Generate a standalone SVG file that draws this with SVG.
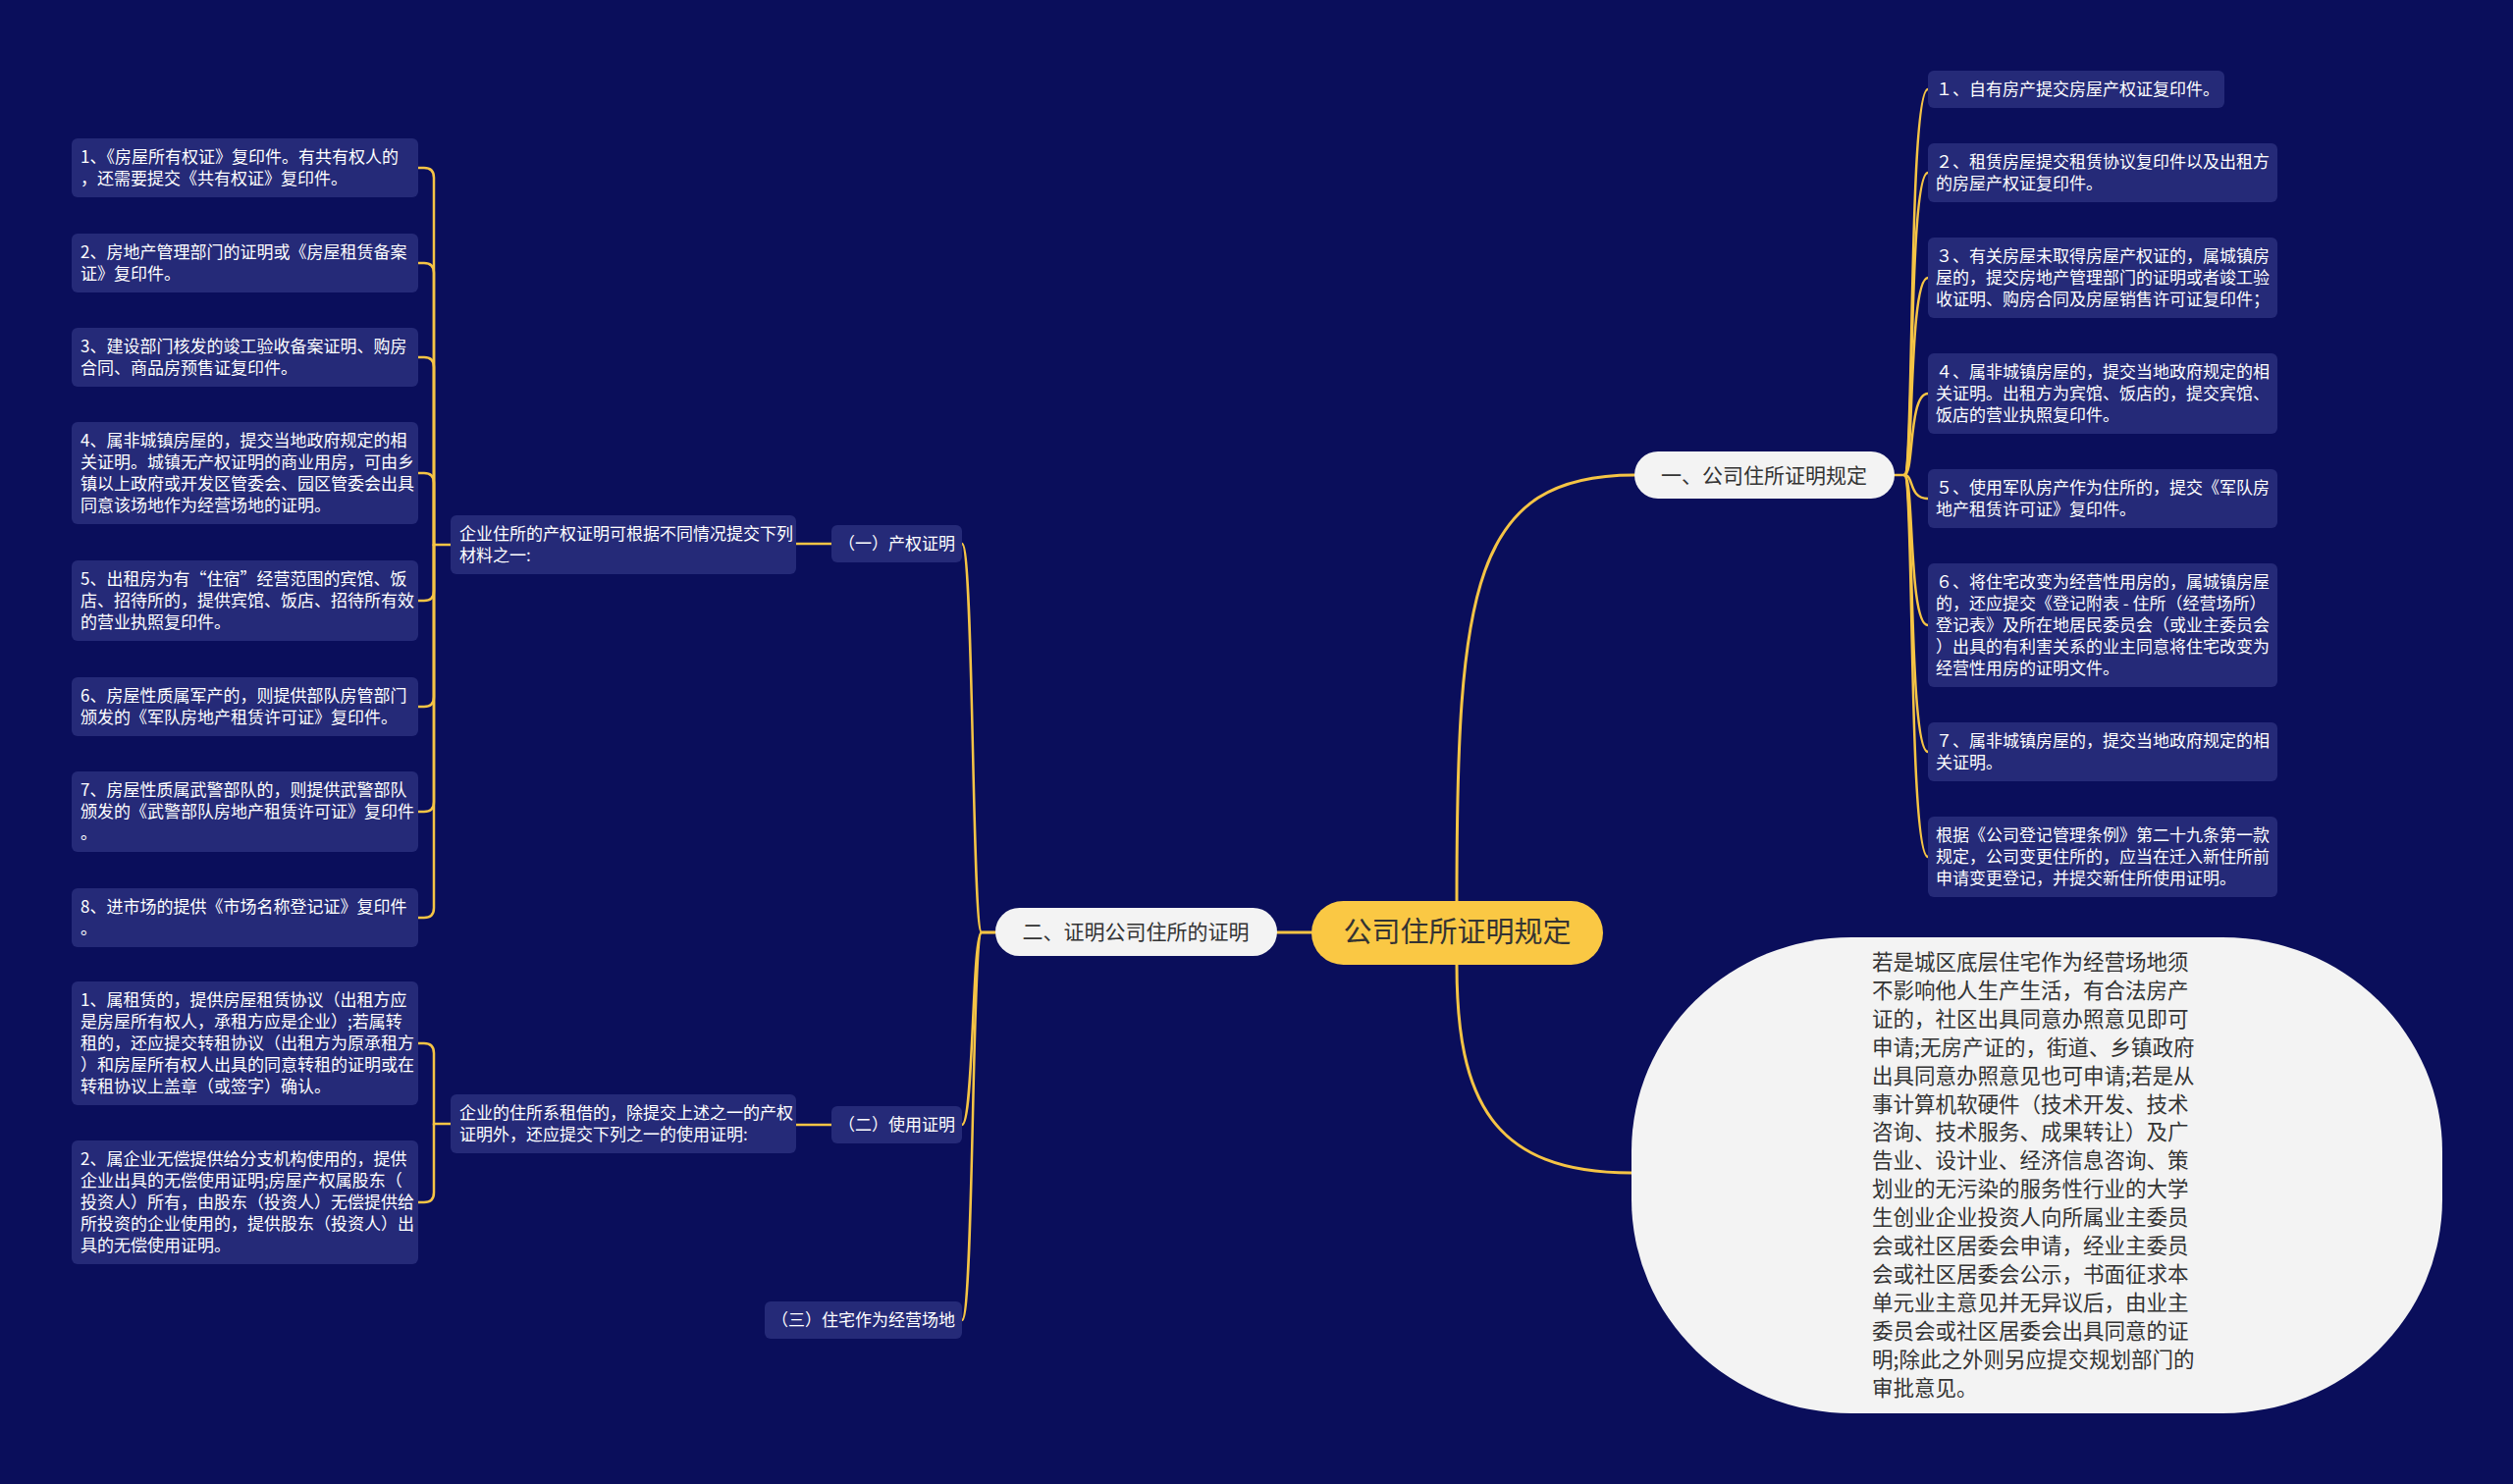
<svg xmlns="http://www.w3.org/2000/svg" width="2560" height="1512" viewBox="0 0 2560 1512">
<style>
.bg{fill:#0a0e5b}
.box{fill:#252a78}
.t{font-family:"Noto Sans CJK SC","Noto Sans",sans-serif;font-size:17px;fill:#ffffff}
.tc{text-anchor:middle}
.pill{fill:#f3f3f3}
.pt{font-family:"Noto Sans CJK SC","Noto Sans",sans-serif;font-size:21px;fill:#333333;text-anchor:middle}
.ct{font-family:"Noto Sans CJK SC","Noto Sans",sans-serif;font-size:29px;fill:#333333;text-anchor:middle}
.et{font-family:"Noto Sans CJK SC","Noto Sans",sans-serif;font-size:21.5px;fill:#333333}
.c{fill:none;stroke:#f5c445;stroke-width:2.5;stroke-linecap:round}
.cm{fill:none;stroke:#f5c445;stroke-width:3;stroke-linecap:round}
</style>
<rect class="bg" x="0" y="0" width="2560" height="1512"/>

<g id="connectors">
<path class="cm" d="M1484,918 C1484,600 1500,484 1665,484"/>
<path class="cm" d="M1484,983 C1484,1120 1520,1195 1662,1195"/>
<path class="cm" d="M1301,950 H1336"/>
<path class="c" d="M1014,950 H1000 C990,950 992,554 980,554"/>
<path class="c" d="M1014,950 H1000 C990,950 992,1146 980,1146"/>
<path class="c" d="M1014,950 H1000 C990,950 992,1345 980,1345"/>
<path class="c" d="M847,554 H811"/>
<path class="c" d="M847,1146 H811"/>
<path class="c" d="M459,555 H442 V181 Q442,171 432,171 H426"/>
<path class="c" d="M442,555 V278 Q442,268 432,268 H426"/>
<path class="c" d="M442,555 V374 Q442,364 432,364 H426"/>
<path class="c" d="M442,555 V492 Q442,482 432,482 H426"/>
<path class="c" d="M442,555 V602 Q442,612 432,612 H426"/>
<path class="c" d="M442,555 V710 Q442,720 432,720 H426"/>
<path class="c" d="M442,555 V817 Q442,827 432,827 H426"/>
<path class="c" d="M442,555 V925 Q442,935 432,935 H426"/>
<path class="c" d="M459,1145 H442 V1073 Q442,1063 432,1063 H426"/>
<path class="c" d="M442,1145 V1215 Q442,1225 432,1225 H426"/>
<path class="c" d="M1930,484 H1940 C1950,484 1944,91 1964,91"/>
<path class="c" d="M1940,484 C1950,484 1944,176 1964,176"/>
<path class="c" d="M1940,484 C1950,484 1944,283 1964,283"/>
<path class="c" d="M1940,484 C1950,484 1944,401 1964,401"/>
<path class="c" d="M1940,484 C1950,484 1944,508 1964,508"/>
<path class="c" d="M1940,484 C1950,484 1944,637 1964,637"/>
<path class="c" d="M1940,484 C1950,484 1944,766 1964,766"/>
<path class="c" d="M1940,484 C1950,484 1944,873 1964,873"/>
</g>

<g id="root">
<rect x="1336" y="918" width="297" height="65" rx="32.5" fill="#fac844"/>
<text class="ct" x="1484.5" y="960">公司住所证明规定</text>
</g>

<g id="branch1">
<rect class="pill" x="1665" y="460" width="265" height="48" rx="24"/>
<text class="pt" x="1797" y="492">一、公司住所证明规定</text>
</g>

<g id="branch2">
<rect class="pill" x="1014" y="925" width="287" height="49" rx="24.5"/>
<text class="pt" x="1157" y="957">二、证明公司住所的证明</text>
</g>

<g id="residence-note">
<rect class="pill" x="1662" y="955" width="826" height="485" rx="224" ry="218"/>
<text class="et" x="1907" y="988">
<tspan x="1907" dy="0">若是城区底层住宅作为经营场地须</tspan>
<tspan x="1907" dy="28.9">不影响他人生产生活，有合法房产</tspan>
<tspan x="1907" dy="28.9">证的，社区出具同意办照意见即可</tspan>
<tspan x="1907" dy="28.9">申请;无房产证的，街道、乡镇政府</tspan>
<tspan x="1907" dy="28.9">出具同意办照意见也可申请;若是从</tspan>
<tspan x="1907" dy="28.9">事计算机软硬件（技术开发、技术</tspan>
<tspan x="1907" dy="28.9">咨询、技术服务、成果转让）及广</tspan>
<tspan x="1907" dy="28.9">告业、设计业、经济信息咨询、策</tspan>
<tspan x="1907" dy="28.9">划业的无污染的服务性行业的大学</tspan>
<tspan x="1907" dy="28.9">生创业企业投资人向所属业主委员</tspan>
<tspan x="1907" dy="28.9">会或社区居委会申请，经业主委员</tspan>
<tspan x="1907" dy="28.9">会或社区居委会公示，书面征求本</tspan>
<tspan x="1907" dy="28.9">单元业主意见并无异议后，由业主</tspan>
<tspan x="1907" dy="28.9">委员会或社区居委会出具同意的证</tspan>
<tspan x="1907" dy="28.9">明;除此之外则另应提交规划部门的</tspan>
<tspan x="1907" dy="28.9">审批意见。</tspan>
</text>
</g>

<g id="sub1">
<rect class="box" x="847" y="535" width="133" height="38" rx="6"/>
<text class="t tc" x="913.5" y="560">（一）产权证明</text>
</g>
<g id="sub2">
<rect class="box" x="847" y="1127" width="133" height="38" rx="6"/>
<text class="t tc" x="913.5" y="1152">（二）使用证明</text>
</g>
<g id="sub3">
<rect class="box" x="779" y="1326" width="201" height="38" rx="6"/>
<text class="t tc" x="879.5" y="1351">（三）住宅作为经营场地</text>
</g>

<g id="parentA">
<rect class="box" x="459" y="525" width="352" height="60" rx="6"/>
<text class="t" x="468" y="550"><tspan x="468">企业住所的产权证明可根据不同情况提交下列</tspan><tspan x="468" dy="22">材料之一:</tspan></text>
</g>
<g id="parentB">
<rect class="box" x="459" y="1115" width="352" height="60" rx="6"/>
<text class="t" x="468" y="1140"><tspan x="468">企业的住所系租借的，除提交上述之一的产权</tspan><tspan x="468" dy="22">证明外，还应提交下列之一的使用证明:</tspan></text>
</g>

<g id="left1">
<rect class="box" x="73" y="141" width="353" height="60" rx="6"/>
<text class="t" x="82" y="166"><tspan x="82">1、《房屋所有权证》复印件。有共有权人的</tspan><tspan x="82" dy="22">，还需要提交《共有权证》复印件。</tspan></text>
</g>
<g id="left2">
<rect class="box" x="73" y="238" width="353" height="60" rx="6"/>
<text class="t" x="82" y="263"><tspan x="82">2、房地产管理部门的证明或《房屋租赁备案</tspan><tspan x="82" dy="22">证》复印件。</tspan></text>
</g>
<g id="left3">
<rect class="box" x="73" y="334" width="353" height="60" rx="6"/>
<text class="t" x="82" y="359"><tspan x="82">3、建设部门核发的竣工验收备案证明、购房</tspan><tspan x="82" dy="22">合同、商品房预售证复印件。</tspan></text>
</g>
<g id="left4">
<rect class="box" x="73" y="430" width="353" height="104" rx="6"/>
<text class="t" x="82" y="455"><tspan x="82">4、属非城镇房屋的，提交当地政府规定的相</tspan><tspan x="82" dy="22">关证明。城镇无产权证明的商业用房，可由乡</tspan><tspan x="82" dy="22">镇以上政府或开发区管委会、园区管委会出具</tspan><tspan x="82" dy="22">同意该场地作为经营场地的证明。</tspan></text>
</g>
<g id="left5">
<rect class="box" x="73" y="571" width="353" height="82" rx="6"/>
<text class="t" x="82" y="596"><tspan x="82">5、出租房为有“住宿”经营范围的宾馆、饭</tspan><tspan x="82" dy="22">店、招待所的，提供宾馆、饭店、招待所有效</tspan><tspan x="82" dy="22">的营业执照复印件。</tspan></text>
</g>
<g id="left6">
<rect class="box" x="73" y="690" width="353" height="60" rx="6"/>
<text class="t" x="82" y="715"><tspan x="82">6、房屋性质属军产的，则提供部队房管部门</tspan><tspan x="82" dy="22">颁发的《军队房地产租赁许可证》复印件。</tspan></text>
</g>
<g id="left7">
<rect class="box" x="73" y="786" width="353" height="82" rx="6"/>
<text class="t" x="82" y="811"><tspan x="82">7、房屋性质属武警部队的，则提供武警部队</tspan><tspan x="82" dy="22">颁发的《武警部队房地产租赁许可证》复印件</tspan><tspan x="82" dy="22">。</tspan></text>
</g>
<g id="left8">
<rect class="box" x="73" y="905" width="353" height="60" rx="6"/>
<text class="t" x="82" y="930"><tspan x="82">8、进市场的提供《市场名称登记证》复印件</tspan><tspan x="82" dy="22">。</tspan></text>
</g>

<g id="use1">
<rect class="box" x="73" y="1000" width="353" height="126" rx="6"/>
<text class="t" x="82" y="1025"><tspan x="82">1、属租赁的，提供房屋租赁协议（出租方应</tspan><tspan x="82" dy="22">是房屋所有权人，承租方应是企业）;若属转</tspan><tspan x="82" dy="22">租的，还应提交转租协议（出租方为原承租方</tspan><tspan x="82" dy="22">）和房屋所有权人出具的同意转租的证明或在</tspan><tspan x="82" dy="22">转租协议上盖章（或签字）确认。</tspan></text>
</g>
<g id="use2">
<rect class="box" x="73" y="1162" width="353" height="126" rx="6"/>
<text class="t" x="82" y="1187"><tspan x="82">2、属企业无偿提供给分支机构使用的，提供</tspan><tspan x="82" dy="22">企业出具的无偿使用证明;房屋产权属股东（</tspan><tspan x="82" dy="22">投资人）所有，由股东（投资人）无偿提供给</tspan><tspan x="82" dy="22">所投资的企业使用的，提供股东（投资人）出</tspan><tspan x="82" dy="22">具的无偿使用证明。</tspan></text>
</g>

<g id="right1">
<rect class="box" x="1964" y="72" width="302" height="38" rx="6"/>
<text class="t" x="1972" y="97">１、自有房产提交房屋产权证复印件。</text>
</g>
<g id="right2">
<rect class="box" x="1964" y="146" width="356" height="60" rx="6"/>
<text class="t" x="1972" y="171"><tspan x="1972">２、租赁房屋提交租赁协议复印件以及出租方</tspan><tspan x="1972" dy="22">的房屋产权证复印件。</tspan></text>
</g>
<g id="right3">
<rect class="box" x="1964" y="242" width="356" height="82" rx="6"/>
<text class="t" x="1972" y="267"><tspan x="1972">３、有关房屋未取得房屋产权证的，属城镇房</tspan><tspan x="1972" dy="22">屋的，提交房地产管理部门的证明或者竣工验</tspan><tspan x="1972" dy="22">收证明、购房合同及房屋销售许可证复印件；</tspan></text>
</g>
<g id="right4">
<rect class="box" x="1964" y="360" width="356" height="82" rx="6"/>
<text class="t" x="1972" y="385"><tspan x="1972">４、属非城镇房屋的，提交当地政府规定的相</tspan><tspan x="1972" dy="22">关证明。出租方为宾馆、饭店的，提交宾馆、</tspan><tspan x="1972" dy="22">饭店的营业执照复印件。</tspan></text>
</g>
<g id="right5">
<rect class="box" x="1964" y="478" width="356" height="60" rx="6"/>
<text class="t" x="1972" y="503"><tspan x="1972">５、使用军队房产作为住所的，提交《军队房</tspan><tspan x="1972" dy="22">地产租赁许可证》复印件。</tspan></text>
</g>
<g id="right6">
<rect class="box" x="1964" y="574" width="356" height="126" rx="6"/>
<text class="t" x="1972" y="599"><tspan x="1972">６、将住宅改变为经营性用房的，属城镇房屋</tspan><tspan x="1972" dy="22">的，还应提交《登记附表 - 住所（经营场所）</tspan><tspan x="1972" dy="22">登记表》及所在地居民委员会（或业主委员会</tspan><tspan x="1972" dy="22">）出具的有利害关系的业主同意将住宅改变为</tspan><tspan x="1972" dy="22">经营性用房的证明文件。</tspan></text>
</g>
<g id="right7">
<rect class="box" x="1964" y="736" width="356" height="60" rx="6"/>
<text class="t" x="1972" y="761"><tspan x="1972">７、属非城镇房屋的，提交当地政府规定的相</tspan><tspan x="1972" dy="22">关证明。</tspan></text>
</g>
<g id="right8">
<rect class="box" x="1964" y="832" width="356" height="82" rx="6"/>
<text class="t" x="1972" y="857"><tspan x="1972">根据《公司登记管理条例》第二十九条第一款</tspan><tspan x="1972" dy="22">规定，公司变更住所的，应当在迁入新住所前</tspan><tspan x="1972" dy="22">申请变更登记，并提交新住所使用证明。</tspan></text>
</g>
</svg>
